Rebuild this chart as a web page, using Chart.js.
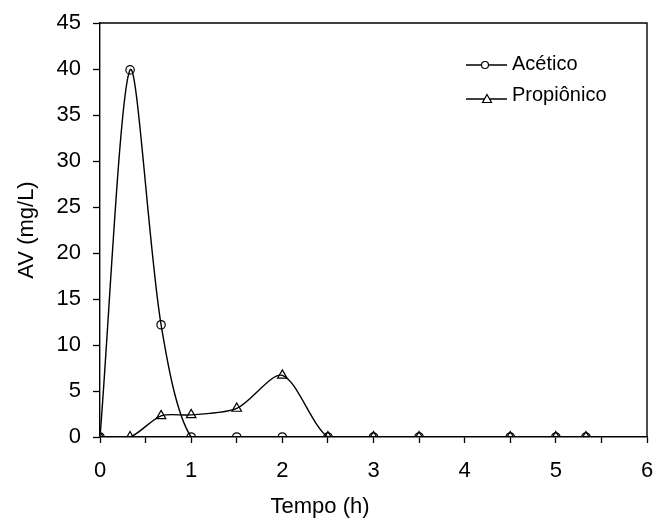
<!DOCTYPE html>
<html lang="pt">
<head>
  <meta charset="UTF-8" />
  <title>AV x Tempo</title>
  <script src="https://cdn.jsdelivr.net/npm/chart.js"></script>
  <style>
    html, body { margin: 0; padding: 0; background: #fff; }
    #wrap { width: 657px; height: 522px; }
  </style>
</head>
<body>
  <div id="wrap"><canvas id="avChart" width="657" height="522"></canvas></div>
  <script>
    const tempo = [0, 0.33, 0.67, 1, 1.5, 2, 2.5, 3, 3.5, 4.5, 5, 5.33];
    const acetico = [0, 39.9, 12.2, 0, 0, 0, 0, 0, 0, 0, 0, 0];
    const propionico = [0, 0, 2.3, 2.4, 3.1, 6.7, 0, 0, 0, 0, 0, 0];
    const yTicks = [0, 5, 10, 15, 20, 25, 30, 35, 40, 45];

    const font = "'Liberation Sans', Arial, sans-serif";
    const toPoints = vals => tempo.map((t, i) => ({ x: t, y: vals[i] }));

    // legend drawn by hand: line + marker + label, like the original
    const legendPlugin = {
      id: 'handLegend',
      afterDraw(chart) {
        const ctx = chart.ctx;
        const rows = [
          { label: 'Acético', style: 'circle', line: 65, text: 64 },
          { label: 'Propiônico', style: 'triangle', line: 99, text: 95 }
        ];
        ctx.save();
        rows.forEach(r => {
          ctx.strokeStyle = '#000';
          ctx.lineWidth = 1.3;
          ctx.beginPath();
          ctx.moveTo(466, r.line);
          ctx.lineTo(507, r.line);
          ctx.stroke();
          ctx.fillStyle = '#fff';
          ctx.lineWidth = 1.2;
          ctx.beginPath();
          if (r.style === 'circle') {
            ctx.arc(485, r.line, 3.5, 0, Math.PI * 2);
          } else {
            ctx.moveTo(487, r.line - 4.5);
            ctx.lineTo(491.5, r.line + 3.5);
            ctx.lineTo(482.5, r.line + 3.5);
            ctx.closePath();
          }
          ctx.fill();
          ctx.stroke();
          ctx.fillStyle = '#000';
          ctx.font = '20px ' + font;
          ctx.textBaseline = 'middle';
          ctx.fillText(r.label, 512, r.text);
        });
        // x axis title sits left of the plot centre in the original
        ctx.font = '22px ' + font;
        ctx.textAlign = 'center';
        ctx.fillText('Tempo (h)', 320, 507);
        ctx.restore();
      }
    };

    // box border on top and right of plot area
    const boxPlugin = {
      id: 'box',
      afterDraw(chart) {
        const a = chart.chartArea, ctx = chart.ctx;
        ctx.save();
        ctx.strokeStyle = '#000';
        ctx.lineWidth = 1.4;
        ctx.beginPath();
        ctx.moveTo(a.left, a.top);
        ctx.lineTo(a.right, a.top);
        ctx.lineTo(a.right, a.bottom);
        ctx.stroke();
        ctx.restore();
      }
    };

    new Chart(document.getElementById('avChart'), {
      type: 'line',
      data: {
        datasets: [
          {
            label: 'Acético',
            data: toPoints(acetico),
            borderColor: '#000',
            borderWidth: 1.4,
            pointStyle: 'circle',
            pointRadius: 4.2,
            pointBackgroundColor: 'rgba(255,255,255,0)',
            pointBorderColor: '#000',
            pointBorderWidth: 1.2,
            tension: 0.28,
            fill: false
          },
          {
            label: 'Propiônico',
            data: toPoints(propionico),
            borderColor: '#000',
            borderWidth: 1.4,
            pointStyle: 'triangle',
            pointRadius: 5.5,
            pointBackgroundColor: 'rgba(255,255,255,0)',
            pointBorderColor: '#000',
            pointBorderWidth: 1.2,
            tension: 0.28,
            fill: false
          }
        ]
      },
      options: {
        responsive: false,
        animation: false,
        layout: { padding: { top: 23, right: 10, left: 0, bottom: 0 } },
        plugins: { legend: { display: false }, tooltip: { enabled: false } },
        scales: {
          x: {
            type: 'linear',
            min: 0,
            max: 6,
            afterFit(s) { s.height = 85; s.paddingLeft = 0; s.paddingRight = 0; },
            ticks: {
              stepSize: 0.5,
              autoSkip: false,
              maxRotation: 0,
              color: '#000',
              font: { family: font, size: 22 },
              padding: 15,
              callback: v => Number.isInteger(v) ? String(v) : ''
            },
            grid: { display: true, drawOnChartArea: false, drawTicks: true, tickLength: 6, tickColor: '#000', tickWidth: 1.3 },
            border: { color: '#000', width: 1.4 },
            title: { display: false }
          },
          y: {
            min: 0,
            max: 45,
            afterFit(s) { s.width = 100; s.paddingTop = 0; s.paddingBottom = 0; },
            afterBuildTicks(s) { s.ticks = yTicks.map(v => ({ value: v })); },
            ticks: {
              color: '#000',
              font: { family: font, size: 22 },
              padding: 12
            },
            grid: { display: true, drawOnChartArea: false, drawTicks: true, tickLength: 7, tickColor: '#000', tickWidth: 1.3 },
            border: { color: '#000', width: 1.4 },
            title: { display: true, text: 'AV (mg/L)', color: '#000', font: { family: font, size: 22 }, padding: { top: 14, bottom: 0 } }
          }
        }
      },
      plugins: [boxPlugin, legendPlugin]
    });
  </script>
</body>
</html>
